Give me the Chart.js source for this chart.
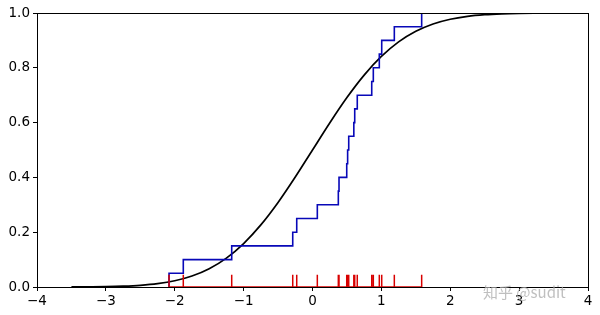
<!DOCTYPE html>
<html>
<head>
<meta charset="utf-8">
<script src="https://cdn.jsdelivr.net/npm/chart.js@4.4.1/dist/chart.umd.min.js"></script>
<style>
  html, body { margin: 0; padding: 0; background: #fff; }
  #wrap { width: 600px; height: 315px; }
</style>
</head>
<body>
<div id="wrap"><canvas id="cdfCanvas"></canvas></div>
<script>
// muestras (rug rojo + ecdf azul)
const muestras = [-2.083, -1.876, -1.173, -0.287, -0.229, 0.070, 0.375, 0.385, 0.497, 0.510,
                  0.526, 0.600, 0.613, 0.650, 0.860, 0.883, 0.970, 1.005, 1.188, 1.585];

// curva negra
const curvaX = [-3.5, -3.25, -3.0, -2.75, -2.5, -2.25, -2.0, -1.75, -1.5, -1.25, -1.0, -0.75, -0.5, -0.25,
                0, 0.25, 0.5, 0.75, 1.0, 1.25, 1.5, 1.75, 2.0, 2.25, 2.5, 2.75, 3.0, 3.25, 3.5];
const curvaY = [0.0002, 0.0006, 0.0013, 0.0030, 0.0062, 0.0122, 0.0228, 0.0401, 0.0668, 0.1056, 0.1587,
                0.2266, 0.3085, 0.4013, 0.5, 0.5987, 0.6915, 0.7734, 0.8413, 0.8944, 0.9332, 0.9599,
                0.9772, 0.9878, 0.9938, 0.9970, 0.9987, 0.9994, 0.9998];

const ticksX = [-4, -3, -2, -1, 0, 1, 2, 3, 4];
const ticksY = [0.0, 0.2, 0.4, 0.6, 0.8, 1.0];
const alturaRug = 0.045;

//ecdf
const n = muestras.length;
const ecdf = [{ x: muestras[0], y: 0 }];
muestras.forEach((m, i) => {
    ecdf.push({ x: m, y: (i + 1) / n });
});

//rug
const rug = [];
muestras.forEach(m => {
    rug.push({ x: m, y: 0 });
    rug.push({ x: m, y: alturaRug });
    rug.push({ x: m, y: 0 });
});

const curva = curvaX.map((x, i) => ({ x: x, y: curvaY[i] }));

function menos(v) {
    return String(v).replace('-', '\u2212');
}

// marco + marca de agua
const marco = {
    id: 'marco',
    afterDraw(chart) {
        const c = chart.ctx;
        const a = chart.chartArea;
        c.save();
        c.strokeStyle = '#000';
        c.lineWidth = 1;
        c.strokeRect(Math.round(a.left) + 0.5, Math.round(a.top) + 0.5,
                     Math.round(a.right - a.left), Math.round(a.bottom - a.top));
        c.font = '15px "Noto Sans CJK SC", sans-serif';
        c.fillStyle = 'rgba(170,170,170,0.75)';
        c.textBaseline = 'middle';
        c.fillText('知乎 @sudit', 483, 292);
        c.restore();
    }
};

Chart.defaults.font.family = '"DejaVu Sans", sans-serif';
Chart.defaults.font.size = 13.5;
Chart.defaults.color = '#000';

const ctx = document.getElementById('cdfCanvas').getContext('2d');
const myChart = new Chart(ctx, {
    type: 'line',
    data: {
        datasets: [
            { data: rug, borderColor: '#d80000', borderWidth: 1.5, pointRadius: 0, fill: false },
            { data: ecdf, borderColor: '#0808b8', borderWidth: 1.6, pointRadius: 0, stepped: 'before', fill: false },
            { data: curva, borderColor: '#000', borderWidth: 1.7, pointRadius: 0, cubicInterpolationMode: 'monotone', fill: false }
        ]
    },
    options: {
        responsive: true,
        maintainAspectRatio: false,
        animation: false,
        parsing: false,
        layout: { padding: { left: 0, right: 12, top: 13, bottom: 0 } },
        plugins: { legend: { display: false }, tooltip: { enabled: false } },
        scales: {
            x: {
                type: 'linear',
                min: -4,
                max: 4,
                afterFit: s => { s.height = 28; },
                afterBuildTicks: s => { s.ticks = ticksX.map(v => ({ value: v })); },
                grid: { drawOnChartArea: false, drawTicks: true, tickLength: 4, color: '#000' },
                border: { display: true, color: '#000' },
                ticks: { padding: 2, maxRotation: 0, callback: v => menos(v) }
            },
            y: {
                type: 'linear',
                min: 0,
                max: 1,
                afterFit: s => { s.width = 37; },
                afterBuildTicks: s => { s.ticks = ticksY.map(v => ({ value: v })); },
                grid: { drawOnChartArea: false, drawTicks: true, tickLength: 4, color: '#000' },
                border: { display: true, color: '#000' },
                ticks: { padding: 3, callback: v => v.toFixed(1) }
            }
        }
    },
    plugins: [marco]
});
</script>
</body>
</html>
